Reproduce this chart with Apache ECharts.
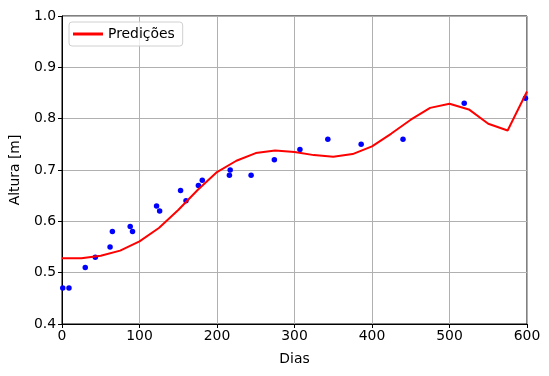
<!DOCTYPE html>
<html>
<head>
<meta charset="utf-8">
<script src="https://cdn.jsdelivr.net/npm/echarts@6/dist/echarts.min.js"></script>
<style>
  html, body { margin: 0; padding: 0; background: #fff; }
  #chart { width: 549px; height: 376px; }
</style>
</head>
<body>
<div id="chart"></div>
<script>
// measured heights (scatter)
const obsDays = [1, 9, 30, 43, 62, 65, 88, 91, 122, 126, 153, 160, 176, 181, 216, 217, 244, 274, 307, 343, 386, 440, 519, 598];
const obsHeight = [0.47, 0.47, 0.51, 0.53, 0.55, 0.58, 0.59, 0.58, 0.63, 0.62, 0.66, 0.64, 0.67, 0.68, 0.69, 0.70, 0.69, 0.72, 0.74, 0.76, 0.75, 0.76, 0.83, 0.84];

// model predictions, every 25 days
const predDays = [0, 25, 50, 75, 100, 125, 150, 175, 200, 225, 250, 275, 300, 325, 350, 375, 400, 425, 450, 475, 500, 525, 550, 575, 600];
const predHeight = [0.528, 0.528, 0.533, 0.543, 0.561, 0.587, 0.622, 0.661, 0.696, 0.718, 0.733, 0.738, 0.735, 0.729, 0.726, 0.731, 0.746, 0.771, 0.798, 0.821, 0.829, 0.818, 0.790, 0.777, 0.853];

const xTicks = [0, 100, 200, 300, 400, 500, 600];
const yTicks = [0.4, 0.5, 0.6, 0.7, 0.8, 0.9, 1.0];

const font = "DejaVu Sans";
const chart = echarts.init(document.getElementById("chart"));

chart.setOption({
  animation: false,
  textStyle: { fontFamily: font },
  grid: {
    left: 62, right: 22, top: 16, bottom: 52,
    show: true, borderColor: "#000", borderWidth: 1,
  },
  legend: {
    left: 69, top: 22,
    orient: "vertical",
    padding: [5, 8, 5, 4],
    borderColor: "#d0d0d0", borderWidth: 1, borderRadius: 3,
    backgroundColor: "rgba(255,255,255,0.8)",
    itemWidth: 30, itemHeight: 3, itemGap: 5,
    textStyle: { fontFamily: font, fontSize: 13.9, color: "#000" },
    data: [{ name: "Predições", icon: "rect" }],
  },
  xAxis: {
    type: "value",
    min: xTicks[0], max: xTicks[xTicks.length - 1], interval: 100,
    name: "Dias", nameLocation: "middle", nameGap: 28,
    nameTextStyle: { fontFamily: font, fontSize: 13.9, color: "#000" },
    axisLine: { show: true, lineStyle: { color: "#000", width: 1 } },
    axisTick: { show: true, length: 4, lineStyle: { color: "#000" } },
    axisLabel: { fontFamily: font, fontSize: 13.9, color: "#000", margin: 5 },
    splitLine: { show: true, lineStyle: { color: "#b0b0b0", width: 1 } },
  },
  yAxis: {
    type: "value",
    min: yTicks[0], max: yTicks[yTicks.length - 1], interval: 0.1,
    name: "Altura [m]", nameLocation: "middle", nameGap: 40, nameRotate: 90,
    nameTextStyle: { fontFamily: font, fontSize: 13.9, color: "#000" },
    axisLine: { show: true, lineStyle: { color: "#000", width: 1 } },
    axisTick: { show: true, length: 4, lineStyle: { color: "#000" } },
    axisLabel: {
      fontFamily: font, fontSize: 13.9, color: "#000", margin: 6,
      formatter: (v) => v.toFixed(1),
    },
    splitLine: { show: true, lineStyle: { color: "#b0b0b0", width: 1 } },
  },
  series: [
    {
      name: "Medidas",
      type: "scatter",
      data: obsDays.map((d, i) => [d, obsHeight[i]]),
      symbolSize: 5.5,
      itemStyle: { color: "#0000ff", opacity: 1 },
      z: 2,
    },
    {
      name: "Predições",
      type: "line",
      data: predDays.map((d, i) => [d, predHeight[i]]),
      showSymbol: false,
      symbol: "none",
      lineStyle: { color: "#ff0000", width: 2 },
      itemStyle: { color: "#ff0000" },
      z: 3,
    },
  ],
});
</script>
</body>
</html>
